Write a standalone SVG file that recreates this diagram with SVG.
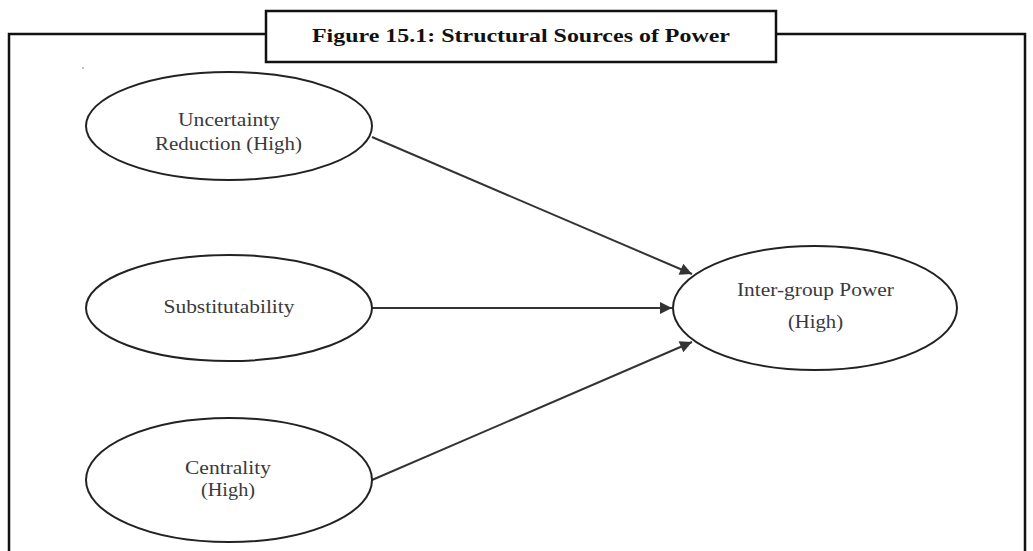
<svg xmlns="http://www.w3.org/2000/svg" width="1033" height="551" viewBox="0 0 1033 551">
<defs>
<style>
.frame{fill:none;stroke:#111;stroke-width:2.5}
.node{fill:#fff;stroke:#222;stroke-width:2}
.lbl{font-family:"Liberation Serif","DejaVu Serif",serif;font-size:19px;fill:#3a3a3a;text-anchor:middle}
.title{font-family:"Liberation Serif","DejaVu Serif",serif;font-size:19px;font-weight:bold;fill:#111;text-anchor:middle}
.edge{stroke:#333;stroke-width:2;fill:none;marker-end:url(#arr)}
</style>
<marker id="arr" viewBox="0 0 10 10" refX="10" refY="5" markerWidth="7" markerHeight="6" markerUnits="strokeWidth" orient="auto">
<path d="M0,0 L10,5 L0,10 z" fill="#333"/>
</marker>
</defs>
<rect width="1033" height="551" fill="#fff"/>
<g id="frame">
<path class="frame" d="M9,551 L9,34 L266,34 M776,34 L1025,34 L1025,551"/>
<rect class="frame" x="266" y="11" width="510" height="51" fill="#fff"/>
<text class="title" x="521" y="42" textLength="418" lengthAdjust="spacingAndGlyphs">Figure 15.1: Structural Sources of Power</text>
<circle cx="83" cy="68" r="0.7" fill="#555"/>
</g>
<g id="connectors">
<line class="edge" x1="372" y1="137" x2="692" y2="274"/>
<line class="edge" x1="372" y1="308" x2="672" y2="308"/>
<line class="edge" x1="372" y1="480" x2="692" y2="342"/>
</g>
<g id="n1">
<ellipse class="node" cx="229" cy="126" rx="143" ry="54"/>
<text class="lbl" x="229" y="126" textLength="102" lengthAdjust="spacingAndGlyphs">Uncertainty</text>
<text class="lbl" x="228.5" y="150" textLength="147" lengthAdjust="spacingAndGlyphs">Reduction (High)</text>
</g>
<g id="n2">
<ellipse class="node" cx="229" cy="308" rx="143" ry="53"/>
<text class="lbl" x="229" y="313" textLength="131" lengthAdjust="spacingAndGlyphs">Substitutability</text>
</g>
<g id="n3">
<ellipse class="node" cx="229" cy="480" rx="143" ry="62"/>
<text class="lbl" x="228" y="474" textLength="86" lengthAdjust="spacingAndGlyphs">Centrality</text>
<text class="lbl" x="228" y="496" textLength="54" lengthAdjust="spacingAndGlyphs">(High)</text>
</g>
<g id="n4">
<ellipse class="node" cx="815" cy="308" rx="142" ry="62"/>
<text class="lbl" x="815.5" y="296" textLength="157" lengthAdjust="spacingAndGlyphs">Inter-group Power</text>
<text class="lbl" x="815.5" y="328" textLength="55" lengthAdjust="spacingAndGlyphs">(High)</text>
</g>
</svg>
